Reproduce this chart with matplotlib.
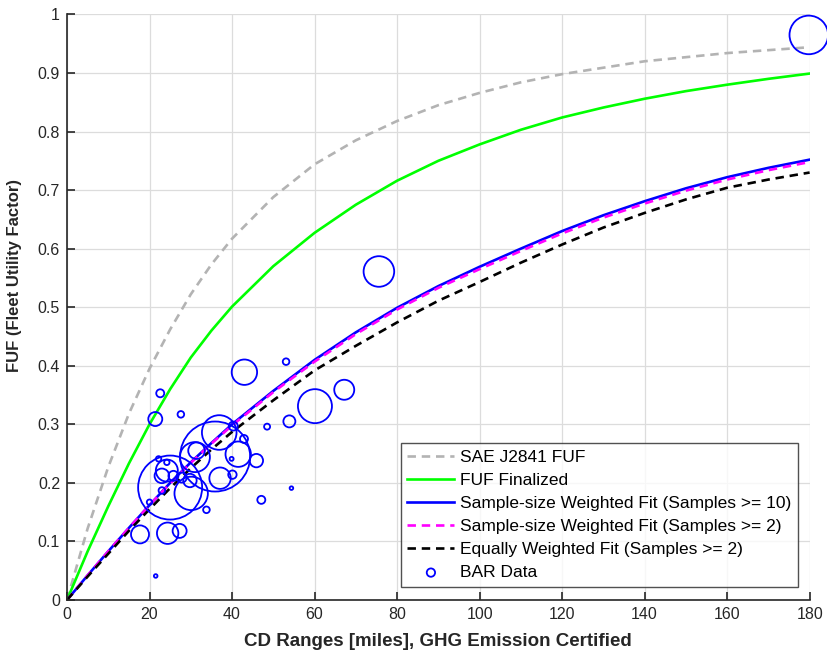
import matplotlib
matplotlib.use('Agg')
import matplotlib.pyplot as plt

plt.rcParams['font.family'] = ['Liberation Sans', 'DejaVu Sans']

# ── 곡선 데이터 ─────────────────────────────────────
curve_x = [0, 5, 10, 15, 20, 25, 30, 35, 40, 50, 60, 70, 80, 90,
           100, 110, 120, 130, 140, 150, 160, 170, 180]
sae_fuf = [0, 0.122, 0.227, 0.318, 0.395, 0.462, 0.522, 0.573, 0.617, 0.688, 0.744, 0.785,
           0.818, 0.845, 0.866, 0.884, 0.898, 0.909, 0.920, 0.927, 0.934, 0.939, 0.944]
fuf_final = [0, 0.083, 0.160, 0.233, 0.300, 0.360, 0.414, 0.460, 0.501, 0.570, 0.627, 0.675,
             0.716, 0.750, 0.778, 0.803, 0.824, 0.841, 0.856, 0.869, 0.880, 0.890, 0.899]
fit_w10 = [0, 0.042, 0.083, 0.123, 0.162, 0.200, 0.235, 0.268, 0.300, 0.357, 0.410, 0.457,
           0.499, 0.536, 0.569, 0.600, 0.630, 0.657, 0.681, 0.703, 0.722, 0.738, 0.752]
fit_w2 = [0, 0.042, 0.083, 0.123, 0.162, 0.199, 0.234, 0.267, 0.298, 0.355, 0.407, 0.454,
          0.496, 0.533, 0.565, 0.596, 0.626, 0.653, 0.677, 0.699, 0.718, 0.734, 0.748]
fit_eq = [0, 0.040, 0.079, 0.118, 0.155, 0.191, 0.225, 0.257, 0.287, 0.341, 0.392, 0.434,
          0.474, 0.511, 0.543, 0.576, 0.607, 0.636, 0.661, 0.684, 0.704, 0.718, 0.730]

# ── BAR 데이터: 거리, FUF, 마커 반지름(px) ─────────────────
bar_x = [21.4, 27.6, 36.9, 48.5, 40.3, 42.9, 35.9, 41.5, 45.9, 39.9,
         37.1, 40.1, 47.1, 33.8, 30.1, 25.0, 31.0, 31.4, 24.2, 23.0,
         22.2, 24.2, 25.8, 27.8, 29.8, 23.0, 20.0, 17.7, 24.4, 27.3,
         21.5, 54.4, 53.1, 22.6, 43.0, 67.2, 60.1, 53.9, 75.6, 179.8]
bar_y = [0.309, 0.317, 0.286, 0.296, 0.297, 0.275, 0.245, 0.249, 0.238, 0.241,
         0.208, 0.214, 0.171, 0.154, 0.182, 0.192, 0.244, 0.255, 0.221, 0.212,
         0.241, 0.235, 0.212, 0.209, 0.204, 0.187, 0.167, 0.112, 0.114, 0.118,
         0.041, 0.191, 0.407, 0.353, 0.389, 0.359, 0.331, 0.305, 0.561, 0.965]
bar_r = [7.0, 3.3, 17.3, 3.0, 4.5, 4.0, 35.0, 12.7, 6.7, 2.0,
         10.7, 4.2, 4.0, 3.3, 16.7, 32.0, 15.0, 8.3, 11.0, 7.3,
         2.7, 2.7, 5.0, 5.0, 6.7, 3.3, 2.7, 9.0, 10.7, 7.0,
         1.8, 1.8, 3.3, 4.0, 12.7, 10.0, 17.0, 6.0, 15.3, 19.3]

fig = plt.figure(figsize=(8.27, 6.56), dpi=100)
ax = fig.add_axes([0.081, 0.0854, 0.898, 0.8926])

DASH = (0, (3.2, 2.2))
ax.plot(curve_x, sae_fuf, color='#b3b3b3', linestyle=DASH, linewidth=1.9,
        label='SAE J2841 FUF')
ax.plot(curve_x, fuf_final, color='#00ff00', linewidth=1.9, label='FUF Finalized')
ax.plot(curve_x, fit_w10, color='#0000ff', linewidth=1.9,
        label='Sample-size Weighted Fit (Samples >= 10)')
ax.plot(curve_x, fit_w2, color='#ff00ff', linestyle=DASH, linewidth=1.9,
        label='Sample-size Weighted Fit (Samples >= 2)')
ax.plot(curve_x, fit_eq, color='black', linestyle=DASH, linewidth=1.9,
        label='Equally Weighted Fit (Samples >= 2)')

sizes = [(1.44 * r) ** 2 for r in bar_r]
ax.scatter(bar_x, bar_y, s=sizes, facecolors='none', edgecolors='#0000ff',
           linewidths=1.3, label='BAR Data', clip_on=False, zorder=3)

ax.set_xlim(0, 180)
ax.set_ylim(0, 1)
ax.set_xticks(range(0, 181, 20))
ax.set_yticks([i / 10 for i in range(11)])
ax.set_yticklabels(['0'] + [f'0.{i}' for i in range(1, 10)] + ['1'])
ax.grid(True, color='#dcdcdc', linewidth=0.9)
ax.set_axisbelow(True)
ax.spines[['top', 'right']].set_visible(False)
for s in ['left', 'bottom']:
    ax.spines[s].set_color('#262626')
    ax.spines[s].set_linewidth(1.2)
ax.tick_params(direction='in', length=6, width=1.2, colors='#262626',
               labelsize=11.5, pad=5)

ax.set_xlabel('CD Ranges [miles], GHG Emission Certified', fontsize=13.5,
              fontweight='bold', color='#262626', labelpad=8)
ax.set_ylabel('FUF (Fleet Utility Factor)', fontsize=12,
              fontweight='bold', color='#262626')
ax.yaxis.set_label_coords(-0.061, 0.554)

leg = ax.legend(loc='lower right', bbox_to_anchor=(0.984, 0.022), fontsize=12.5,
                frameon=True, fancybox=False, edgecolor='#262626',
                handlelength=2.7, handletextpad=0.3, borderpad=0.4,
                labelspacing=0.45, borderaxespad=0)
leg.get_frame().set_linewidth(1.0)
leg.legend_handles[-1].set_sizes([36])

fig.savefig('out.png', dpi=100)
